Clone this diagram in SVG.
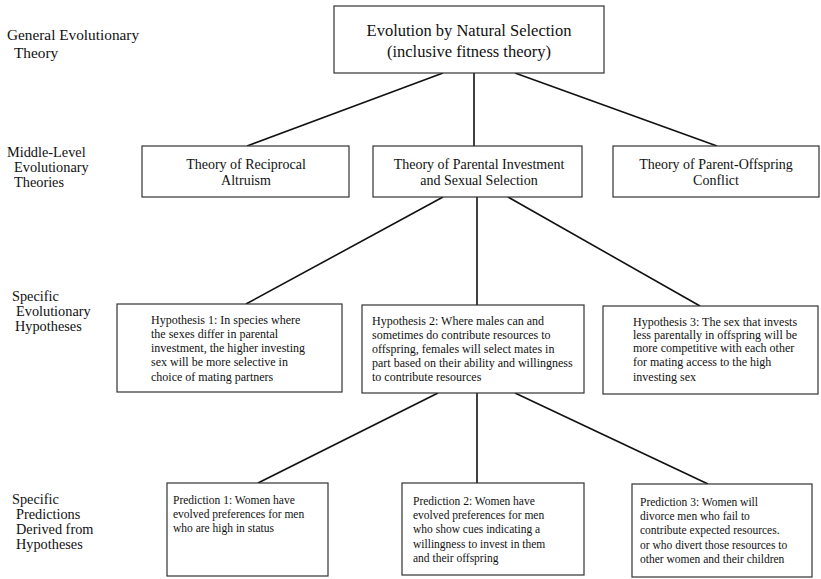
<svg xmlns="http://www.w3.org/2000/svg" width="821" height="579" viewBox="0 0 821 579" xml:space="preserve">
<style>
.bg{fill:#fff}
.box{fill:#fff;stroke:#333;stroke-width:1.2}
.lbl{font-family:"Liberation Serif","Times New Roman",serif;fill:#111;white-space:pre}
.side{font-size:14.3px}
.top{font-size:16.5px;text-anchor:middle}
.mid{font-size:14px;text-anchor:middle}
.hyp{font-size:12px}
.pred{font-size:11.5px}
.conn line{stroke:#111;stroke-width:1.6}
</style>
<rect class="bg" x="0" y="0" width="821" height="579"/>
<g id="side-labels" class="lbl side">
<text x="7" y="40" style="font-size:15.3px">General Evolutionary</text>
<text x="14" y="58" style="font-size:15.3px">Theory</text>
<text x="7" y="157">Middle-Level</text>
<text x="14" y="172">Evolutionary</text>
<text x="14" y="187">Theories</text>
<text x="12" y="301">Specific</text>
<text x="16" y="316">Evolutionary</text>
<text x="15" y="331">Hypotheses</text>
<text x="12" y="504">Specific</text>
<text x="16" y="519">Predictions</text>
<text x="16" y="534">Derived from</text>
<text x="16" y="549">Hypotheses</text>
</g>
<g id="connectors" class="conn">
<line x1="443" y1="73" x2="247" y2="146"/>
<line x1="474" y1="73" x2="474" y2="146"/>
<line x1="515" y1="73" x2="717" y2="146"/>
<line x1="443" y1="197" x2="246" y2="304"/>
<line x1="477" y1="197" x2="477" y2="305"/>
<line x1="508" y1="197" x2="700" y2="306"/>
<line x1="438" y1="393" x2="258" y2="483"/>
<line x1="477" y1="393" x2="477" y2="483"/>
<line x1="515" y1="393" x2="708" y2="484"/>
</g>
<g id="n-top">
<rect class="box" x="334" y="6" width="270" height="67"/>
<text class="lbl top" x="469" y="36">Evolution by Natural Selection</text>
<text class="lbl top" x="469" y="57">(inclusive fitness theory)</text>
</g>
<g id="n-reciprocal">
<rect class="box" x="142" y="146" width="207" height="51"/>
<text class="lbl mid" x="246" y="169">Theory of Reciprocal</text>
<text class="lbl mid" x="246" y="185">Altruism</text>
</g>
<g id="n-parental">
<rect class="box" x="373" y="146" width="209" height="51"/>
<text class="lbl mid" x="479" y="169">Theory of Parental Investment</text>
<text class="lbl mid" x="479" y="185">and Sexual Selection</text>
</g>
<g id="n-conflict">
<rect class="box" x="613" y="146" width="206" height="51"/>
<text class="lbl mid" x="716" y="169">Theory of Parent-Offspring</text>
<text class="lbl mid" x="716" y="185">Conflict</text>
</g>
<g id="n-hyp1" class="lbl hyp">
<rect class="box" x="117" y="304" width="225" height="88"/>
<text x="151" y="324">Hypothesis 1:  In species where</text>
<text x="151" y="338">the sexes differ in parental</text>
<text x="151" y="352">investment, the higher investing</text>
<text x="151" y="366">sex will be more selective in</text>
<text x="151" y="381">choice of mating partners</text>
</g>
<g id="n-hyp2" class="lbl hyp">
<rect class="box" x="362" y="305" width="222" height="88"/>
<text x="372" y="325">Hypothesis 2:  Where males can and</text>
<text x="372" y="339">sometimes do contribute resources to</text>
<text x="372" y="353">offspring, females will  select mates in</text>
<text x="372" y="367">part based on their ability and willingness</text>
<text x="372" y="381">to contribute resources</text>
</g>
<g id="n-hyp3" class="lbl hyp">
<rect class="box" x="603" y="306" width="215" height="88"/>
<text x="633" y="326">Hypothesis 3:  The sex  that invests</text>
<text x="633" y="339">less parentally in offspring will be</text>
<text x="633" y="352">more competitive with each other</text>
<text x="633" y="366">for mating access to the high</text>
<text x="633" y="381">investing sex</text>
</g>
<g id="n-pred1" class="lbl pred">
<rect class="box" x="167" y="483" width="161" height="93"/>
<text x="173" y="504">Prediction 1:  Women have</text>
<text x="173" y="518">evolved preferences for men</text>
<text x="173" y="532">who are high in status</text>
</g>
<g id="n-pred2" class="lbl pred">
<rect class="box" x="402" y="483" width="182" height="92"/>
<text x="413" y="505">Prediction 2:  Women have</text>
<text x="413" y="519">evolved preferences for men</text>
<text x="413" y="533">who show cues indicating a</text>
<text x="413" y="548">willingness to invest in them</text>
<text x="413" y="562">and their offspring</text>
</g>
<g id="n-pred3" class="lbl pred">
<rect class="box" x="632" y="484" width="180" height="93"/>
<text x="640" y="506">Prediction 3:  Women will</text>
<text x="640" y="520">divorce men who fail to</text>
<text x="640" y="534">contribute expected resources.</text>
<text x="640" y="549">or who divert those resources to</text>
<text x="640" y="563">other women and their children</text>
</g>
</svg>
